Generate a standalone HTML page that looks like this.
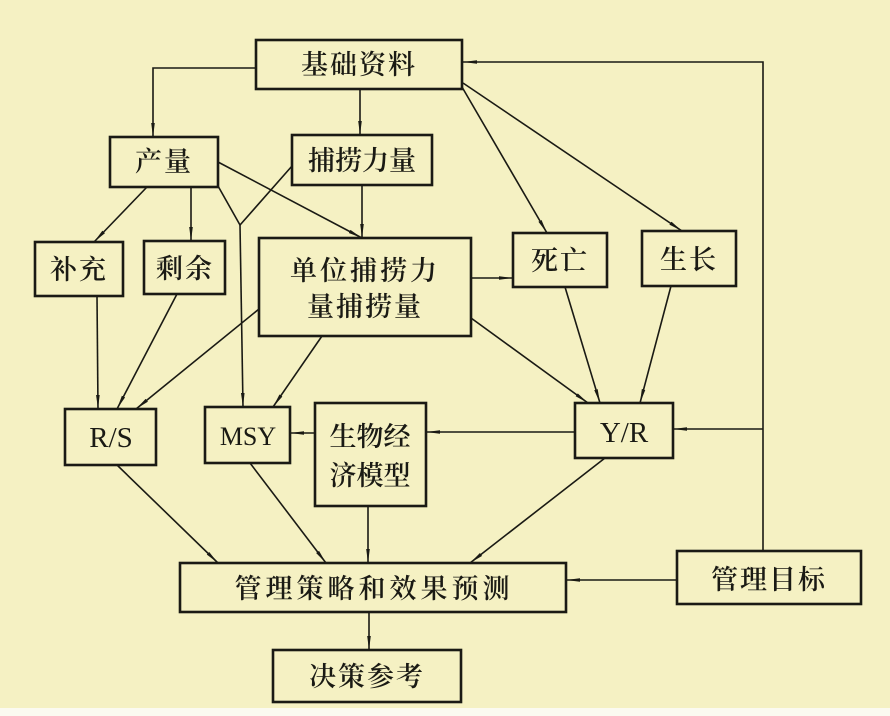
<!DOCTYPE html>
<html><head><meta charset="utf-8"><style>
html,body{margin:0;padding:0;background:#f5f1c3;}
svg{display:block}
text{font-family:"Liberation Serif","Noto Serif CJK SC","Noto Sans CJK SC",serif;fill:#1a1a14;}
.c{font-weight:600;}
</style></head><body>
<svg width="890" height="716" viewBox="0 0 890 716" xmlns="http://www.w3.org/2000/svg">
<defs>
<marker id="a" viewBox="0 0 14 6" refX="14" refY="3" markerWidth="14" markerHeight="6" markerUnits="userSpaceOnUse" orient="auto">
<path d="M0,1.2 L14,3 L0,4.8 Z" fill="#1a1a14"/>
</marker>
</defs>
<rect x="0" y="0" width="890" height="716" fill="#f5f1c3"/>
<rect x="0" y="708" width="890" height="8" fill="#fbfaf0"/>
<g stroke="#1a1a14" stroke-width="2.6" fill="none">
<rect x="256" y="40" width="206" height="49"/>
<rect x="110" y="137" width="108" height="50"/>
<rect x="292" y="135" width="140" height="50"/>
<rect x="35" y="242" width="88" height="54"/>
<rect x="144" y="241" width="81" height="53"/>
<rect x="259" y="238" width="212" height="98"/>
<rect x="513" y="233" width="94" height="54"/>
<rect x="642" y="231" width="94" height="55"/>
<rect x="65" y="409" width="91" height="56"/>
<rect x="205" y="407" width="85" height="56"/>
<rect x="315" y="403" width="111" height="103"/>
<rect x="575" y="403" width="98" height="55"/>
<rect x="180" y="563" width="386" height="49"/>
<rect x="677" y="551" width="184" height="53"/>
<rect x="273" y="650" width="188" height="52"/>
</g>
<g stroke="#1a1a14" stroke-width="1.6" fill="none">
<path d="M256,68 H153 V137" marker-end="url(#a)"/>
<line x1="360" y1="89" x2="360" y2="135" marker-end="url(#a)"/>
<path d="M763,551 V62 H463" marker-end="url(#a)"/>
<line x1="462" y1="87" x2="547" y2="233" marker-end="url(#a)"/>
<line x1="463" y1="83" x2="682" y2="231" marker-end="url(#a)"/>
<line x1="147" y1="187" x2="94" y2="242" marker-end="url(#a)"/>
<line x1="191" y1="187" x2="191" y2="241" marker-end="url(#a)"/>
<line x1="218" y1="162" x2="362" y2="238" marker-end="url(#a)"/>
<path d="M218,186 L240,225 L292,166"/>
<line x1="240" y1="225" x2="243" y2="407" marker-end="url(#a)"/>
<line x1="362" y1="185" x2="362" y2="238" marker-end="url(#a)"/>
<line x1="471" y1="278" x2="513" y2="278" marker-end="url(#a)"/>
<line x1="97" y1="296" x2="98" y2="409" marker-end="url(#a)"/>
<line x1="177" y1="294" x2="117" y2="409" marker-end="url(#a)"/>
<line x1="259" y1="309" x2="136" y2="409" marker-end="url(#a)"/>
<line x1="322" y1="336" x2="273" y2="407" marker-end="url(#a)"/>
<line x1="471" y1="318" x2="588" y2="403" marker-end="url(#a)"/>
<line x1="565" y1="287" x2="600" y2="403" marker-end="url(#a)"/>
<line x1="671" y1="286" x2="640" y2="403" marker-end="url(#a)"/>
<line x1="575" y1="432" x2="426" y2="432" marker-end="url(#a)"/>
<line x1="315" y1="433" x2="290" y2="433" marker-end="url(#a)"/>
<line x1="763" y1="429" x2="673" y2="429" marker-end="url(#a)"/>
<line x1="117" y1="465" x2="218" y2="563" marker-end="url(#a)"/>
<line x1="250" y1="463" x2="326" y2="563" marker-end="url(#a)"/>
<line x1="368" y1="506" x2="368" y2="563" marker-end="url(#a)"/>
<line x1="605" y1="458" x2="470" y2="563" marker-end="url(#a)"/>
<line x1="677" y1="580" x2="566" y2="580" marker-end="url(#a)"/>
<line x1="369" y1="612" x2="369" y2="650" marker-end="url(#a)"/>
</g>
<g font-size="27" text-anchor="middle" class="c">
<text x="359" y="74" letter-spacing="2">基础资料</text>
<text x="164" y="171" letter-spacing="2">产量</text>
<text x="362" y="170" letter-spacing="0">捕捞力量</text>
<text x="79" y="279" letter-spacing="2">补充</text>
<text x="185" y="278" letter-spacing="2">剩余</text>
<text x="365" y="280" letter-spacing="3">单位捕捞力</text>
<text x="365" y="316" letter-spacing="2">量捕捞量</text>
<text x="560" y="270" letter-spacing="2">死亡</text>
<text x="689" y="269" letter-spacing="2">生长</text>
<text x="370" y="446" letter-spacing="0">生物经</text>
<text x="370" y="485" letter-spacing="0">济模型</text>
<text x="374" y="598" letter-spacing="4">管理策略和效果预测</text>
<text x="769" y="589" letter-spacing="2">管理目标</text>
<text x="367" y="686" letter-spacing="2">决策参考</text>
</g>
<g font-size="29" text-anchor="middle">
<text x="111" y="447">R/S</text>
<text x="248" y="445" font-size="26">MSY</text>
<text x="624" y="442">Y/R</text>
</g>
</svg>
</body></html>
